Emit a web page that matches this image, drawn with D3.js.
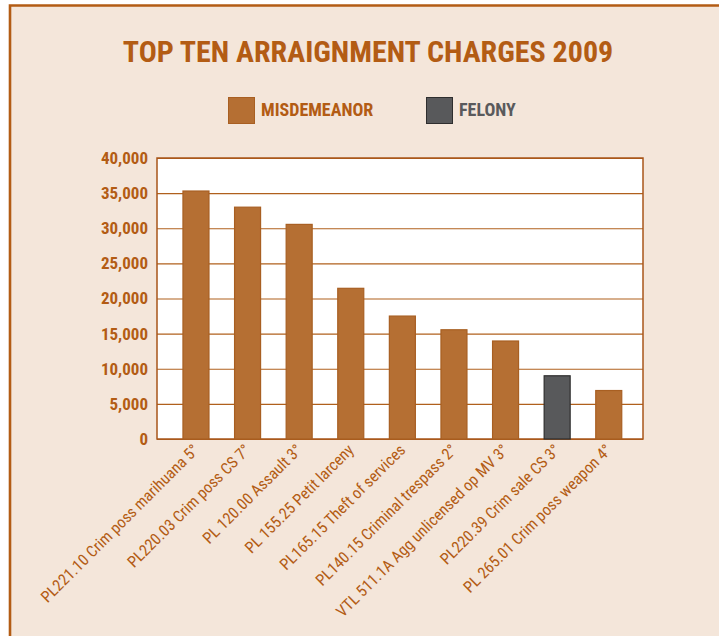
<!DOCTYPE html>
<html>
<head>
<meta charset="utf-8">
<script src="https://cdn.jsdelivr.net/npm/d3@7"></script>
<style>
  body { margin: 0; background: #fff; }
  svg { display: block; }
  .cond { font-family: "Liberation Sans Narrow", "Arial Narrow", "Roboto Condensed", "Liberation Sans", sans-serif; }
</style>
</head>
<body>
<svg id="chart" width="719" height="636"></svg>
<script>
// data
const charges = [
    "PL221.10 Crim poss marihuana 5°",
    "PL220.03 Crim poss CS 7°",
    "PL 120.00 Assault 3°",
    "PL 155.25 Petit larceny",
    "PL165.15 Theft of services",
    "PL140.15 Criminal trespass 2°",
    "VTL 511.1A Agg unlicensed op MV 3°",
    "PL220.39 Crim sale CS 3°",
    "PL 265.01 Crim poss weapon 4°"
];
const counts = [35300, 33000, 30550, 21450, 17500, 15550, 13950, 9000, 6900];
const kinds = ["Misdemeanor", "Misdemeanor", "Misdemeanor", "Misdemeanor", "Misdemeanor",
    "Misdemeanor", "Misdemeanor", "Felony", "Misdemeanor"];
const legendLabels = ["MISDEMEANOR", "FELONY"];
const yTicks = [0, 5000, 10000, 15000, 20000, 25000, 30000, 35000, 40000];

const brown = "#b35c14";
const fills = { Misdemeanor: "#b56f33", Felony: "#58595b" };
const strokes = { Misdemeanor: "#a85f22", Felony: "#2e2e2e" };

const svg = d3.select("#chart");

// page background and border
svg.append("rect")
    .attr("x", 10).attr("y", 5)
    .attr("width", 709).attr("height", 631)
    .attr("fill", "#f4e6da");
svg.append("path")
    .attr("d", "M10,636 V5.5 H719")
    .attr("fill", "none")
    .attr("stroke", brown)
    .attr("stroke-width", 2.6);

// Title
svg.append("text")
    .attr("class", "cond")
    .attr("x", 368)
    .attr("y", 62)
    .attr("text-anchor", "middle")
    .attr("font-size", 30)
    .attr("font-weight", "bold")
    .attr("fill", brown)
    .text("TOP TEN ARRAIGNMENT CHARGES 2009");

// Legend
const legend = svg.append("g");
const legendItems = [
    { label: legendLabels[0], kind: "Misdemeanor", x: 228, color: brown },
    { label: legendLabels[1], kind: "Felony", x: 426, color: "#5a5a5c" }
];
legendItems.forEach(d => {
    legend.append("rect")
        .attr("x", d.x + 0.5).attr("y", 97.5)
        .attr("width", 26).attr("height", 26)
        .attr("fill", fills[d.kind])
        .attr("stroke", strokes[d.kind]);
    legend.append("text")
        .attr("class", "cond")
        .attr("x", d.x + 33)
        .attr("y", 116)
        .attr("font-size", 18)
        .attr("font-weight", "bold")
        .attr("fill", d.color)
        .text(d.label);
});

// Plot area
const plot = { left: 157, right: 643, top: 158, bottom: 439 };

const x = d3.scaleBand()
    .domain(charges)
    .range([plot.left, plot.right])
    .paddingInner(0.496)
    .paddingOuter(0.4575)
    .align(0.55);

const y = d3.scaleLinear()
    .domain([0, 40000])
    .range([plot.bottom, plot.top]);

svg.append("rect")
    .attr("x", plot.left).attr("y", plot.top)
    .attr("width", plot.right - plot.left)
    .attr("height", plot.bottom - plot.top)
    .attr("fill", "#fff");

// gridlines + tick labels
const yAxis = svg.append("g")
    .attr("transform", `translate(${plot.left},0)`)
    .call(d3.axisLeft(y)
        .tickValues(yTicks)
        .tickSize(-(plot.right - plot.left))
        .tickPadding(9)
        .tickFormat(d3.format(",")));
yAxis.select(".domain").remove();
yAxis.selectAll(".tick line")
    .attr("stroke", "#b0601c")
    .attr("stroke-width", 1.2);
yAxis.selectAll(".tick text")
    .attr("class", "cond")
    .attr("font-size", 17)
    .attr("font-weight", "bold")
    .attr("fill", brown);

// frame
svg.append("rect")
    .attr("x", plot.left).attr("y", plot.top)
    .attr("width", plot.right - plot.left)
    .attr("height", plot.bottom - plot.top)
    .attr("fill", "none")
    .attr("stroke", "#a8561a")
    .attr("stroke-width", 1.5);

// Bars
svg.selectAll(".bar")
    .data(charges)
    .enter().append("rect")
    .attr("class", "bar")
    .attr("x", d => x(d))
    .attr("y", (d, i) => y(counts[i]))
    .attr("width", x.bandwidth())
    .attr("height", (d, i) => y(0) - y(counts[i]))
    .attr("fill", (d, i) => fills[kinds[i]])
    .attr("stroke", (d, i) => strokes[kinds[i]])
    .attr("stroke-width", 1.2);

// x labels, rotated
svg.selectAll(".xlabel")
    .data(charges)
    .enter().append("text")
    .attr("class", "xlabel cond")
    .attr("transform", d => `translate(${x(d) + x.bandwidth() / 2 + 4},${plot.bottom + 12}) rotate(-45)`)
    .attr("text-anchor", "end")
    .attr("font-size", 16)
    .attr("fill", brown)
    .text(d => d);
</script>
</body>
</html>
